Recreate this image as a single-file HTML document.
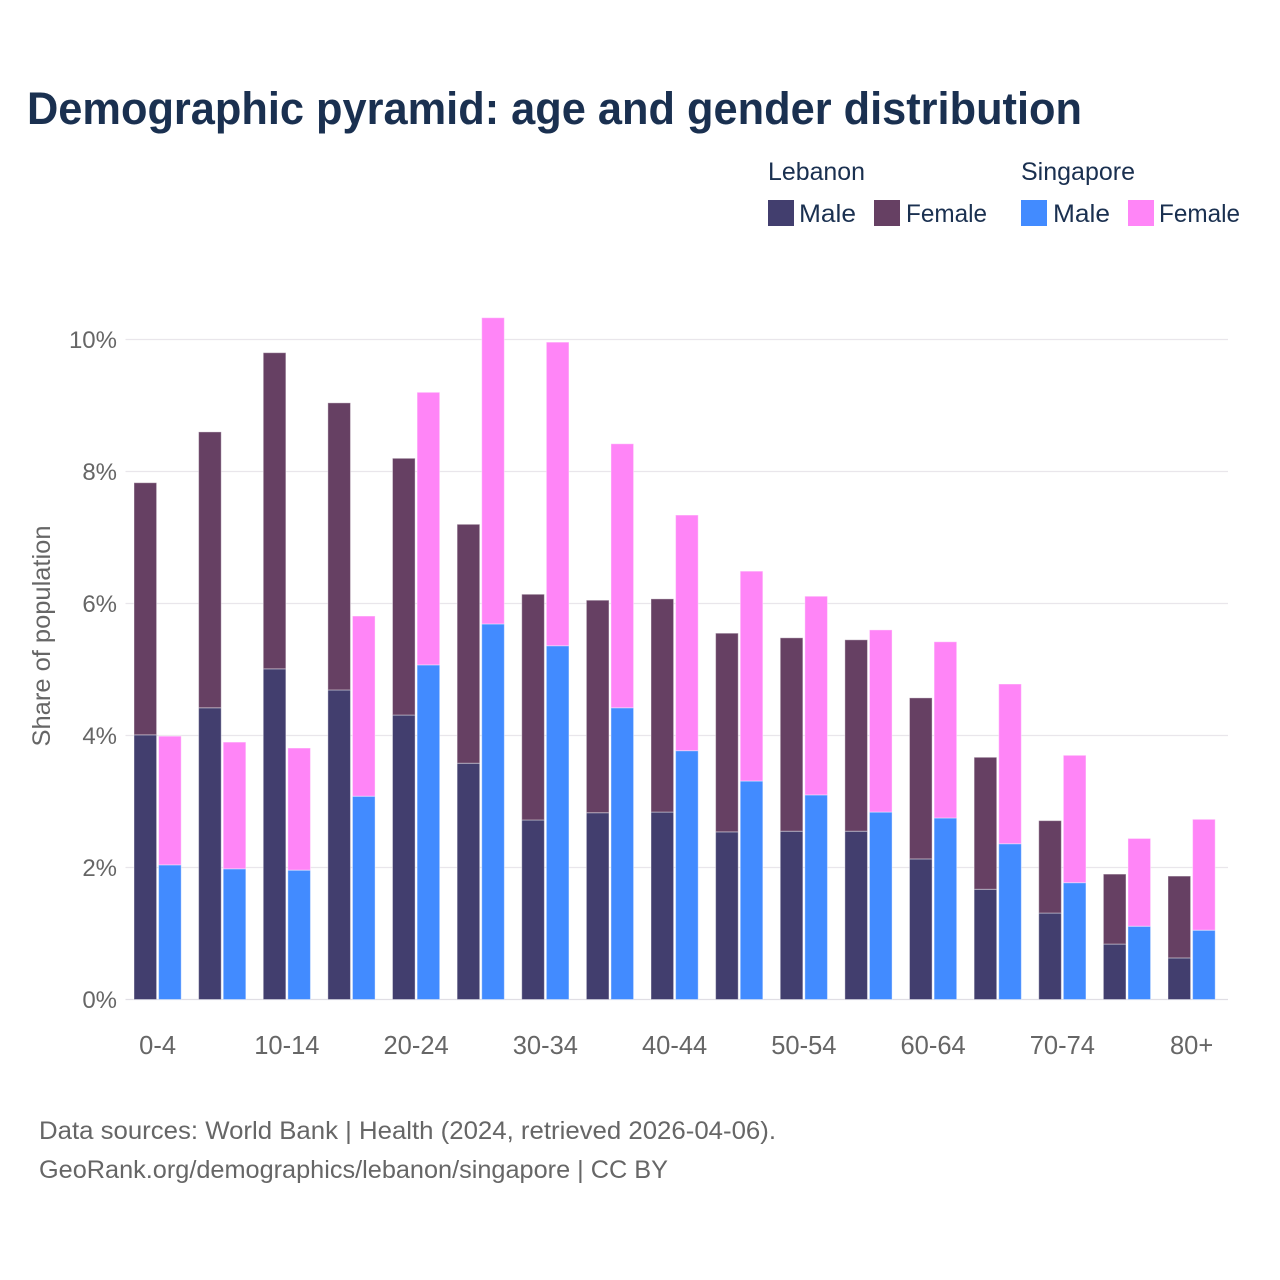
<!DOCTYPE html>
<html lang="en">
<head>
<meta charset="utf-8">
<title>Demographic pyramid: age and gender distribution</title>
<style>
  html, body { margin: 0; padding: 0; background: #fff; }
  svg { display: block; font-family: "Liberation Sans", sans-serif; }
</style>
</head>
<body>
<svg id="chart" xmlns="http://www.w3.org/2000/svg" width="1280" height="1280" viewBox="0 0 1280 1280">
  <rect width="1280" height="1280" fill="#ffffff"/>
  <text x="27" y="124" font-size="45" font-weight="700" fill="#1a3050" textLength="1055" lengthAdjust="spacingAndGlyphs">Demographic pyramid: age and gender distribution</text>

  <g font-size="25" fill="#1a3050">
    <text x="768" y="180" textLength="97" lengthAdjust="spacingAndGlyphs">Lebanon</text>
    <text x="1021" y="180" textLength="114" lengthAdjust="spacingAndGlyphs">Singapore</text>
    <rect x="768" y="200" width="26" height="26" fill="#423e6e"/>
    <text x="799" y="222" textLength="57" lengthAdjust="spacingAndGlyphs">Male</text>
    <rect x="874" y="200" width="26" height="26" fill="#664063"/>
    <text x="906" y="222" textLength="81" lengthAdjust="spacingAndGlyphs">Female</text>
    <rect x="1021" y="200" width="26" height="26" fill="#428bff"/>
    <text x="1053" y="222" textLength="57" lengthAdjust="spacingAndGlyphs">Male</text>
    <rect x="1128" y="200" width="26" height="26" fill="#ff85f7"/>
    <text x="1159" y="222" textLength="81" lengthAdjust="spacingAndGlyphs">Female</text>
  </g>

  <g id="grid"></g>
  <g id="yticks"></g>
  <g id="bars"></g>
  <g id="xticks"></g>

  <text transform="translate(50 636) rotate(-90)" text-anchor="middle" font-size="25" fill="#666666" textLength="221" lengthAdjust="spacingAndGlyphs">Share of population</text>

  <g font-size="25" fill="#666666">
    <text x="39" y="1139" textLength="737" lengthAdjust="spacingAndGlyphs">Data sources: World Bank | Health (2024, retrieved 2026-04-06).</text>
    <text x="39" y="1178" textLength="629" lengthAdjust="spacingAndGlyphs">GeoRank.org/demographics/lebanon/singapore | CC BY</text>
  </g>
</svg>
<script>
const ageGroups = ["0-4","5-9","10-14","15-19","20-24","25-29","30-34","35-39","40-44","45-49","50-54","55-59","60-64","65-69","70-74","75-79","80+"];
const visibleAgeLabels = ["0-4","10-14","20-24","30-34","40-44","50-54","60-64","70-74","80+"];
const lebanonMale = [4.01,4.42,5.01,4.69,4.31,3.58,2.72,2.83,2.84,2.54,2.55,2.55,2.13,1.67,1.31,0.84,0.63];
const lebanonFemale = [3.82,4.18,4.79,4.35,3.89,3.62,3.42,3.22,3.23,3.01,2.93,2.90,2.44,2.00,1.40,1.06,1.24];
const singaporeMale = [2.04,1.98,1.96,3.08,5.07,5.69,5.36,4.42,3.77,3.31,3.10,2.84,2.75,2.36,1.77,1.11,1.05];
const singaporeFemale = [1.95,1.92,1.85,2.73,4.13,4.64,4.60,4.00,3.57,3.18,3.01,2.76,2.67,2.42,1.93,1.33,1.68];
const yTicks = [0,2,4,6,8,10];

const NS = "http://www.w3.org/2000/svg";
const plotLeft = 125.5, plotRight = 1228, plotBottom = 999.5, pxPerPercent = 66;
const firstBarX = 134, groupStep = 64.625, barWidth = 22.6, barGap = 24.6;

function yScale(v) { return plotBottom - v * pxPerPercent; }
function xScale(i) { return firstBarX + i * groupStep; }

const gridG = document.getElementById("grid");
const yG = document.getElementById("yticks");
yTicks.forEach(function (t) {
  const line = document.createElementNS(NS, "line");
  
  
  line.setAttribute("x1", plotLeft);
  line.setAttribute("x2", plotRight);
  line.setAttribute("y1", yScale(t));
  line.setAttribute("y2", yScale(t));
  line.setAttribute("stroke", t === 0 ? "#e0dee4" : "#e9e6eb");
  line.setAttribute("stroke-width", 1.3);
  gridG.appendChild(line);

  const label = document.createElementNS(NS, "text");
  
  
  label.setAttribute("x", 117);
  label.setAttribute("y", yScale(t) + 8.5);
  label.setAttribute("text-anchor", "end");
  label.setAttribute("font-size", "24");
  label.setAttribute("fill", "#666666");
  label.textContent = t + "%";
  yG.appendChild(label);
});

function addBar(x, base, value, color) {
  const r = document.createElementNS(NS, "rect");
  
  
  r.setAttribute("x", x);
  r.setAttribute("y", yScale(base + value));
  r.setAttribute("width", barWidth);
  r.setAttribute("height", value * pxPerPercent);
  r.setAttribute("fill", color);
  r.setAttribute("stroke", "#ffffff");
  r.setAttribute("stroke-opacity", "0.4");
  r.setAttribute("stroke-width", "1");
  document.getElementById("bars").appendChild(r);
}

ageGroups.forEach(function (age, i) {
  const x = xScale(i);
  addBar(x, 0, lebanonMale[i], "#423e6e");
  addBar(x, lebanonMale[i], lebanonFemale[i], "#664063");
  addBar(x + barGap, 0, singaporeMale[i], "#428bff");
  addBar(x + barGap, singaporeMale[i], singaporeFemale[i], "#ff85f7");

  if (visibleAgeLabels.indexOf(age) !== -1) {
    const t = document.createElementNS(NS, "text");
    
    
    t.setAttribute("x", x + barGap - 1);
    t.setAttribute("y", 1054);
    t.setAttribute("text-anchor", "middle");
    t.setAttribute("font-size", "25.5");
    t.setAttribute("fill", "#666666");
    t.textContent = age;
    document.getElementById("xticks").appendChild(t);
  }
});
</script>
</body>
</html>
